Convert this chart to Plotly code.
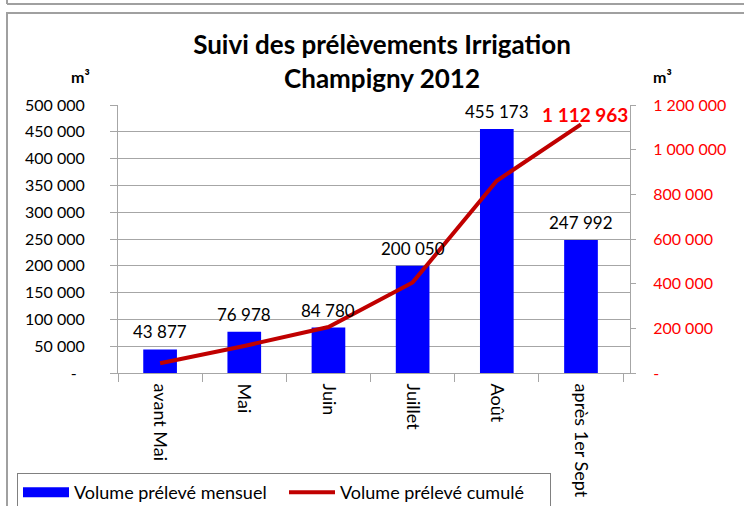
import plotly.graph_objects as go

# Data
mois = ["avant Mai", "Mai", "Juin", "Juillet", "Août", "après 1er Sept"]
volume_mensuel = [43877, 76978, 84780, 200050, 455173, 247992]
volume_cumule = [43877, 120855, 205635, 405685, 860858, 1112963]

left_ticks = [0, 50000, 100000, 150000, 200000, 250000, 300000, 350000, 400000, 450000, 500000]
right_ticks = [0, 200000, 400000, 600000, 800000, 1000000, 1200000]


def fmt(v):
    # French style thousands separator, "-" for zero (Excel accounting)
    if v == 0:
        return "-\u00a0\u00a0"
    return f"{v:,}".replace(",", " ")


FONT = "Lato, Carlito, 'Open Sans', sans-serif"
GRID = "#a6a6a6"

# plot area in pixels: x 118..630, y 105..373
L, R, T, B = 118, 630, 105, 373
px_x = lambda p: (p - L) / (R - L)
px_y = lambda p: (B - p) / (B - T)

fig = go.Figure()

fig.add_trace(go.Bar(
    x=mois, y=volume_mensuel,
    name="Volume prélevé mensuel",
    marker=dict(color="#0000ff", line=dict(width=0)),
    width=0.4,
    yaxis="y",
    showlegend=False,
))
# legend entry drawn as a wide blue block, like the spreadsheet legend
fig.add_trace(go.Scatter(
    x=[None], y=[None], mode="lines",
    name="Volume prélevé mensuel",
    line=dict(color="#0000ff", width=10),
))

fig.add_trace(go.Scatter(
    x=mois, y=volume_cumule,
    name="Volume prélevé cumulé",
    mode="lines",
    line=dict(color="#c00000", width=4),
    yaxis="y2",
))

# bar value labels
for m, v in zip(mois, volume_mensuel):
    fig.add_annotation(
        x=m, y=v, xref="x", yref="y",
        text=fmt(v), showarrow=False,
        yanchor="bottom", yshift=5,
        font=dict(family=FONT, size=17, color="black"),
    )

# last cumulative value
fig.add_annotation(
    x=mois[-1], y=volume_cumule[-1], xref="x", yref="y2",
    text="<b>" + fmt(volume_cumule[-1]) + "</b>", showarrow=False,
    yanchor="bottom", yshift=-4, xshift=4,
    font=dict(family=FONT, size=19, color="#ff0000"),
)

# unit labels
for ux in (80, 662):
    fig.add_annotation(x=px_x(ux), y=px_y(76), xref="paper", yref="paper",
                       xanchor="center", yanchor="middle",
                       text="<b>m³</b>", showarrow=False,
                       font=dict(family=FONT, size=16, color="black"))

fig.update_layout(
    width=744, height=506,
    margin=dict(l=L, r=744 - R, t=T, b=506 - B, autoexpand=False),
    paper_bgcolor="white", plot_bgcolor="white",
    font=dict(family=FONT, size=17, color="black"),
    title=dict(
        text="<b>Suivi des prélèvements Irrigation<br>Champigny 2012</b>",
        x=382 / 744, xanchor="center", y=1 - 54 / 506, yanchor="middle",
        font=dict(family=FONT, size=26, color="black"),
    ),
    showlegend=True,
    legend=dict(
        orientation="h",
        xref="paper", yref="paper",
        x=px_x(17), xanchor="left",
        y=px_y(473), yanchor="top",
        bordercolor="#808080", borderwidth=1,
        bgcolor="white",
        font=dict(family=FONT, size=18, color="black"),
        itemwidth=46,
        entrywidth=205,
    ),
    xaxis=dict(
        type="category",
        automargin=False,
        tickson="boundaries",
        ticks="outside", ticklen=8, tickcolor=GRID,
        ticklabelstandoff=6,
        showline=True, linecolor=GRID, linewidth=1,
        showgrid=False,
        tickangle=90,
        tickfont=dict(family=FONT, size=18, color="black"),
    ),
    yaxis=dict(
        automargin=False,
        range=[0, 500000],
        tickvals=left_ticks,
        ticktext=[fmt(v) for v in left_ticks],
        ticks="outside", ticklen=7, tickcolor=GRID,
        ticklabelstandoff=22,
        showline=True, linecolor=GRID, linewidth=1,
        showgrid=True, gridcolor=GRID, gridwidth=1,
        zeroline=False,
        tickfont=dict(family=FONT, size=16, color="black"),
    ),
    yaxis2=dict(
        automargin=False,
        overlaying="y", side="right",
        range=[0, 1200000],
        tickvals=right_ticks,
        ticktext=[fmt(v) if v else "-" for v in right_ticks],
        ticks="outside", ticklen=5, tickcolor=GRID,
        ticklabelstandoff=14,
        showline=True, linecolor=GRID, linewidth=1,
        showgrid=False, zeroline=False,
        tickfont=dict(family=FONT, size=16, color="#ff0000"),
    ),
)

# outer frames (chart border like the spreadsheet object)
fig.add_shape(type="line", xref="paper", yref="paper",
              x0=px_x(7), x1=px_x(760), y0=px_y(4), y1=px_y(4),
              line=dict(color="#a0a0a0", width=2))
fig.add_shape(type="line", xref="paper", yref="paper",
              x0=px_x(7), x1=px_x(7), y0=px_y(-5), y1=px_y(4),
              line=dict(color="#a0a0a0", width=2))
fig.add_shape(type="rect", xref="paper", yref="paper",
              x0=px_x(7), x1=px_x(760), y0=px_y(13), y1=px_y(530),
              line=dict(color="#a0a0a0", width=2), layer="below")

# page body has a default 8px margin; remove it so the figure sits at 0,0
fig.write_html("out.html", config={"displayModeBar": False},
               post_script="document.body.style.margin='0';")
